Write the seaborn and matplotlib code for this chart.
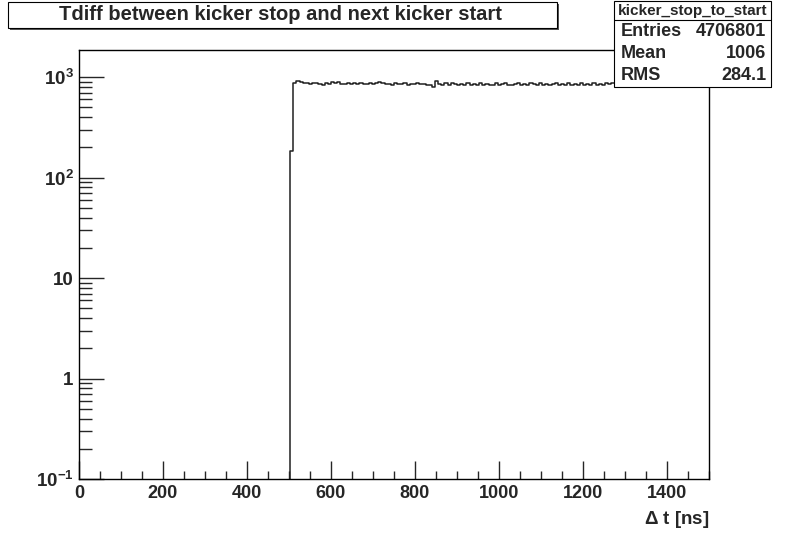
import numpy as np
import pandas as pd
import matplotlib
matplotlib.use("Agg")
import matplotlib.pyplot as plt
import seaborn as sns
from matplotlib.patches import Rectangle
from matplotlib.ticker import MultipleLocator, LogLocator, FuncFormatter

# histogram: 200 bins of 7.5 ns between 0 and 1500 ns, only filled from 502.5 ns on
bin_width = 7.5
x_min, x_max = 0, 1500
first_filled = 502.5
counts = [
    182,
    880, 910, 895, 870, 880, 858, 872, 880, 850, 842,
    875, 860, 884, 866, 890, 852, 846, 868, 850, 872,
    856, 878, 852, 845, 870, 858, 882, 888, 866, 848,
    860, 842, 868, 852, 844, 870, 838, 862, 848, 866,
    846, 858, 835, 828, 795, 915, 852, 836, 866, 840,
    870, 846, 836, 862, 842, 872, 830, 856, 838, 864,
    832, 856, 842, 826, 866, 836, 852, 876, 838, 830,
    850, 868, 828, 846, 834, 864, 846, 826, 870, 836,
    856, 830, 846, 872, 834, 852, 840, 864, 828, 848,
    834, 866, 842, 856, 830, 872, 840, 852, 836, 864,
    846, 868, 852, 840, 876, 850, 862, 880, 858, 884,
    866, 890, 872, 896, 878, 900, 882, 906, 888, 910,
    892, 912, 896, 916, 902, 920, 906, 922, 910, 926,
    914, 928,
]
stats_name = "kicker_stop_to_start"
stats_labels = ["Entries", "Mean", "RMS"]
stats_values = ["4706801", "1006", "284.1"]
title = "Tdiff between kicker stop and next kicker start"

edges = list(np.arange(x_min, x_max + bin_width / 2, bin_width))
centers = first_filled + bin_width * (np.arange(len(counts)) + 0.5)
df = pd.DataFrame({"t": centers, "n": counts})

sns.set_style("white")
plt.rcParams["font.family"] = ["Liberation Sans", "DejaVu Sans"]
plt.rcParams["font.weight"] = "bold"
plt.rcParams["mathtext.fontset"] = "custom"
plt.rcParams["mathtext.rm"] = "Liberation Sans:bold"
plt.rcParams["mathtext.bf"] = "Liberation Sans:bold"
plt.rcParams["axes.unicode_minus"] = False

fig = plt.figure(figsize=(7.88, 5.33), dpi=100)
ax = fig.add_axes([79 / 788, 1 - 479 / 533, 630 / 788, 429 / 533])

sns.histplot(data=df, x="t", weights="n", bins=edges, element="step", fill=False,
             color="#202020", linewidth=1.1, ax=ax)
ax.set_yscale("log")
ax.set_xlim(x_min, x_max)
ax.set_ylim(0.1, 1860)

ax.xaxis.set_major_locator(MultipleLocator(200))
ax.xaxis.set_minor_locator(MultipleLocator(50))
ax.yaxis.set_major_locator(LogLocator(base=10))
ax.yaxis.set_minor_locator(LogLocator(base=10, subs=np.arange(2, 10)))


def log_fmt(v, pos):
    e = int(round(np.log10(v)))
    if e == 0:
        return "1"
    if e == 1:
        return "10"
    return r"$10^{%d}$" % e


ax.yaxis.set_major_formatter(FuncFormatter(log_fmt))
ax.yaxis.set_minor_formatter(FuncFormatter(lambda v, p: ""))

ax.tick_params(axis="x", which="major", direction="in", length=13, width=1,
               labelsize=13, pad=4, bottom=True, top=False)
ax.tick_params(axis="x", which="minor", direction="in", length=6, width=1,
               bottom=True, top=False)
ax.tick_params(axis="y", which="major", direction="in", length=18, width=1,
               labelsize=13.5, pad=4, left=True, right=False)
ax.tick_params(axis="y", which="minor", direction="in", length=9, width=1,
               left=True, right=False)
for s in ax.spines.values():
    s.set_visible(True)
    s.set_color("black")
    s.set_linewidth(1.0)

ax.set_ylabel("")
ax.set_xlabel(r"$\Delta$ t [ns]", fontsize=13.5, fontweight="bold", loc="right",
              labelpad=5)

# title box with shadow
fig.patches.append(Rectangle((10 / 788, 1 - 30 / 533), 549 / 788, 26 / 533,
                             transform=fig.transFigure, facecolor="#555555",
                             edgecolor="none", zorder=1))
fig.patches.append(Rectangle((8 / 788, 1 - 28 / 533), 549 / 788, 26 / 533,
                             transform=fig.transFigure, facecolor="white",
                             edgecolor="black", linewidth=0.8, zorder=2))
fig.text(280 / 788, 1 - 15 / 533, title, ha="center", va="center",
         fontsize=14.5, fontweight="bold", zorder=3)

# stats box with shadow
bx0, by0, bw, bh = 614, 1, 157, 86
fig.patches.append(Rectangle(((bx0 + 1) / 788, 1 - (by0 + bh + 1) / 533), bw / 788, bh / 533,
                             transform=fig.transFigure, facecolor="black",
                             edgecolor="none", zorder=4))
fig.patches.append(Rectangle((bx0 / 788, 1 - (by0 + bh) / 533), bw / 788, bh / 533,
                             transform=fig.transFigure, facecolor="white",
                             edgecolor="black", linewidth=0.8, zorder=5))
fig.add_artist(plt.Line2D([bx0 / 788, (bx0 + bw) / 788], [1 - 20 / 533, 1 - 20 / 533],
                          transform=fig.transFigure, color="black", linewidth=0.8, zorder=6))
fig.text((bx0 + bw / 2) / 788, 1 - 11 / 533, stats_name, ha="center", va="center",
         fontsize=11, fontweight="bold", zorder=7)
for i, (lab, val) in enumerate(zip(stats_labels, stats_values)):
    yy = 1 - (32 + 21.5 * i) / 533
    fig.text(621 / 788, yy, lab, ha="left", va="center", fontsize=13,
             fontweight="bold", zorder=7)
    fig.text(766 / 788, yy, val, ha="right", va="center", fontsize=13,
             fontweight="bold", zorder=7)

fig.savefig("out.png", dpi=100, facecolor="white")
